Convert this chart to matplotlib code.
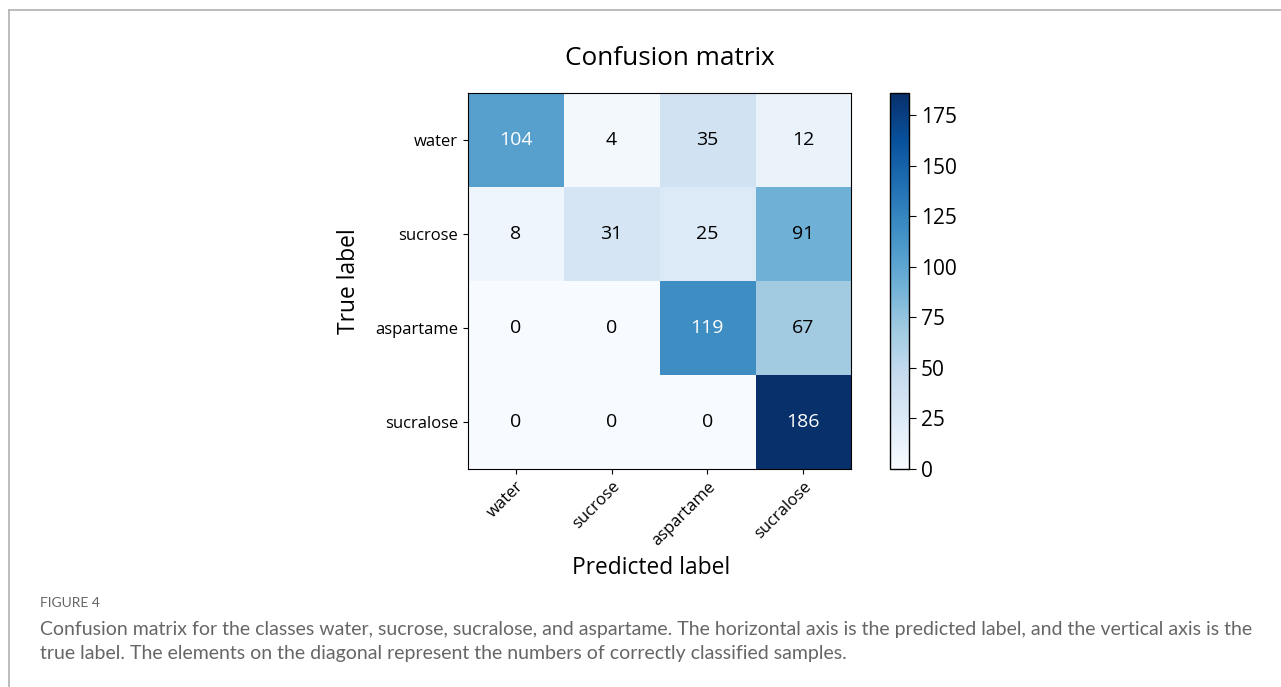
import numpy as np
import matplotlib
matplotlib.use("Agg")
import matplotlib.pyplot as plt
from matplotlib.lines import Line2D

# confusion matrix values (rows = true, cols = predicted)
classes = ["water", "sucrose", "aspartame", "sucralose"]
cm = np.array([[104, 4, 35, 12],
               [8, 31, 25, 91],
               [0, 0, 119, 67],
               [0, 0, 0, 186]])
cbar_ticks = [0, 25, 50, 75, 100, 125, 150, 175]

caption_head = "FIGURE 4"
caption_lines = [
    "Confusion matrix for the classes water, sucrose, sucralose, and aspartame. The horizontal axis is the predicted label, and the vertical axis is the",
    "true label. The elements on the diagonal represent the numbers of correctly classified samples.",
]

plt.rcParams['font.family'] = ['Open Sans', 'DejaVu Sans']

fig = plt.figure(figsize=(12.81, 6.87), dpi=100)

# heatmap
ax = fig.add_axes([0.3653, 0.3173, 0.299, 0.5473])
im = ax.imshow(cm, cmap="Blues", vmin=0, vmax=cm.max(), aspect="auto")
thresh = cm.max() / 2.
for i in range(cm.shape[0]):
    for j in range(cm.shape[1]):
        ax.text(j, i, str(cm[i, j]), ha="center", va="center", fontsize=14,
                color="white" if cm[i, j] > thresh else "black")
ax.set_xticks(range(len(classes)))
ax.set_yticks(range(len(classes)))
ax.set_xticklabels(classes, rotation=45, ha="right", rotation_mode="anchor", fontsize=12)
ax.set_yticklabels(classes, fontsize=12)
ax.set_title("Confusion matrix", fontsize=18.8, pad=20, x=0.526)
ax.set_xlabel("Predicted label", fontsize=16.4, labelpad=5, x=0.479)
ax.set_ylabel("True label", fontsize=16.4, labelpad=10)

# colorbar
cax = fig.add_axes([0.6948, 0.3173, 0.0148, 0.5473])
cb = fig.colorbar(im, cax=cax, ticks=cbar_ticks)
cb.ax.tick_params(labelsize=15, length=5)
cb.outline.set_linewidth(1)

# frame lines around the figure
fig.add_artist(Line2D([9 / 1281, 1], [1 - 10 / 687, 1 - 10 / 687], color="#b0b0b0", lw=1.2))
fig.add_artist(Line2D([9 / 1281, 9 / 1281], [0, 1 - 10 / 687], color="#b0b0b0", lw=1.2))

# caption
fig.text(40 / 1281, 1 - 603 / 687, caption_head, fontsize=10, color="#666666", va="center",
         family=["Lato", "DejaVu Sans"])
fig.text(40 / 1281, 1 - 630 / 687, caption_lines[0], fontsize=14, color="#666666", va="center",
         family=["Lato", "DejaVu Sans"])
fig.text(40 / 1281, 1 - 654 / 687, caption_lines[1], fontsize=14, color="#666666", va="center",
         family=["Lato", "DejaVu Sans"])

fig.savefig("out.png", dpi=100)
